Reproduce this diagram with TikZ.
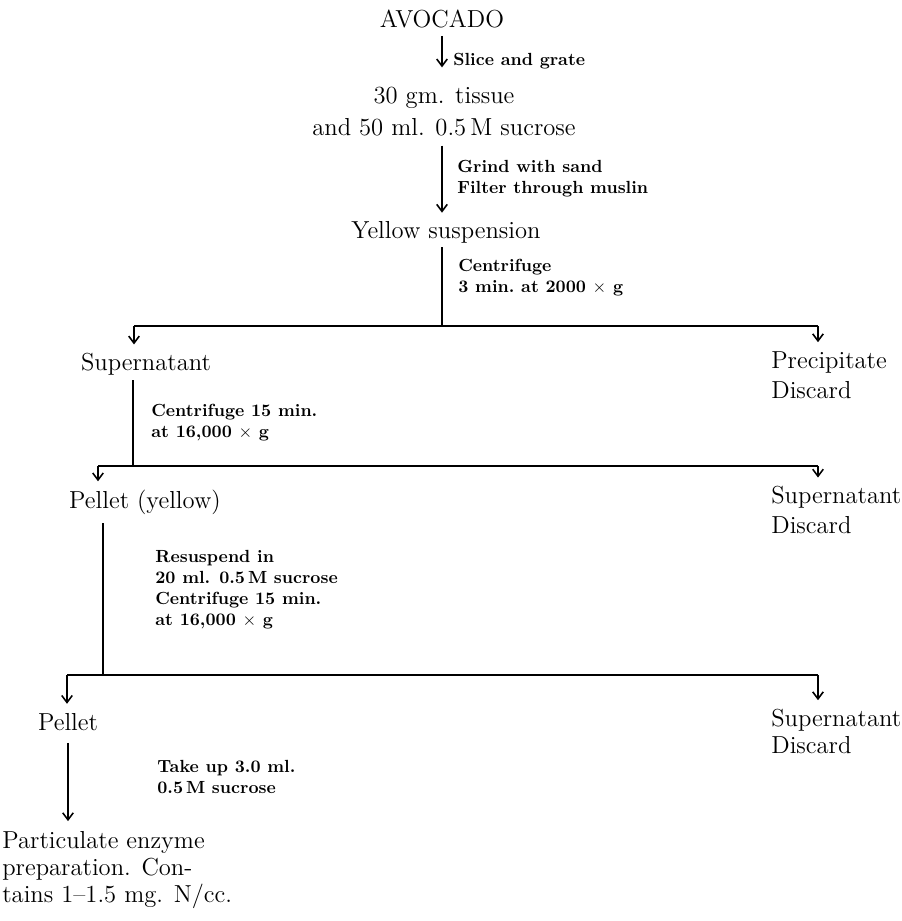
\documentclass[tikz,border=0pt]{standalone}
\usepackage{tikz}
\usetikzlibrary{arrows.meta}
\usepackage{amsmath}
\tikzset{
	>={Straight Barb[length=4pt,width=6pt]},
	every node/.style={inner sep=0pt, font=\fontsize{14}{17}\selectfont},
	stage/.style={align=center, anchor=base},
	waste/.style={align=left, anchor=base west},
	note/.style={align=left, anchor=base west, font=\fontsize{10}{11.9}\selectfont\bfseries},
	flow/.style={line width=0.9pt}}

\begin{document}
\begin{tikzpicture}[x=0.02cm, y=-0.02cm]
		\useasboundingbox (0,0) rectangle (902,921);

		% main line (multi-line nodes sit on their last baseline)
		\node[stage] (avocado) at (442,27) {AVOCADO};
		\node[stage, font=\fontsize{14}{18}\selectfont] (tissue) at (444,135) {30 gm. tissue\\and 50 ml. 0.5\,M sucrose};
		\node[stage] (yellow) at (446,238) {Yellow suspension};
		\node[stage] (super1) at (146,370) {Supernatant};
		\node[stage] (pellety) at (145,508) {Pellet (yellow)};
		\node[stage] (pellet) at (68,730) {Pellet};
		\node[waste, font=\fontsize{14}{15.3}\selectfont] (enzyme) at (2,902) {Particulate enzyme\\preparation. Con-\\tains 1--1.5 mg. N/cc.};

		% discarded fractions
		\node[waste] (precip) at (771,398) {Precipitate\\Discard};
		\node[waste] (super2) at (771,533) {Supernatant\\Discard};
		\node[waste, font=\fontsize{14}{15}\selectfont] (super3) at (771,753) {Supernatant\\Discard};

		% steps
		\node[note] (slice) at (453,65) {Slice and grate};
		\node[note] (grind) at (457,193) {Grind with sand\\Filter through muslin};
		\node[note] (spin1) at (458,292) {Centrifuge\\3 min.\ at 2000 $\times$ g};
		\node[note] (spin2) at (151,437) {Centrifuge 15 min.\\at 16,000 $\times$ g};
		\node[note] (spin3) at (155,625) {Resuspend in\\20 ml. 0.5\,M sucrose\\Centrifuge 15 min.\\at 16,000 $\times$ g};
		\node[note] (takeup) at (157,793) {Take up 3.0 ml.\\0.5\,M sucrose};

		\coordinate (split1) at (442,326);
		\coordinate (left1) at (134,326);
		\coordinate (right1) at (818,326);
		\coordinate (split2) at (133,466);
		\coordinate (left2) at (98,466);
		\coordinate (right2) at (818,466);
		\coordinate (split3) at (103,675);
		\coordinate (left3) at (67,675);
		\coordinate (right3) at (818,675);

		\draw[flow, ->, shorten <=4.5pt, shorten >=11pt] (avocado.south) -- (avocado.south |- tissue.north);
		\draw[flow, ->, shorten <=5.5pt, shorten >=4.5pt] (avocado.south |- tissue.south) -- (avocado.south |- yellow.north);

		\draw[flow, shorten <=2.3pt] (split1 |- yellow.south) -- (split1);
		\draw[flow] (left1) -- (right1);
		\draw[flow, ->, shorten >=4.5pt] (left1) -- (left1 |- super1.north);
		\draw[flow, ->, shorten >=5pt] (right1) -- (right1 |- precip.north);

		\draw[flow, shorten <=2.8pt] (split2 |- super1.south) -- (split2);
		\draw[flow] (left2) -- (right2);
		\draw[flow, ->, shorten >=4.5pt] (left2) -- (left2 |- pellety.north);
		\draw[flow, ->, shorten >=4.5pt] (right2) -- (right2 |- super2.north);

		\draw[flow, shorten <=5pt] (split3 |- pellety.south) -- (split3);
		\draw[flow] (left3) -- (right3);
		\draw[flow, ->, shorten >=5pt] (left3) -- (left3 |- pellet.north);
		\draw[flow, ->, shorten >=5pt] (right3) -- (right3 |- super3.north);

		\draw[flow, ->, shorten <=7pt, shorten >=5.5pt] (pellet.south) -- (pellet.south |- enzyme.north);

	\end{tikzpicture}
\end{document}
